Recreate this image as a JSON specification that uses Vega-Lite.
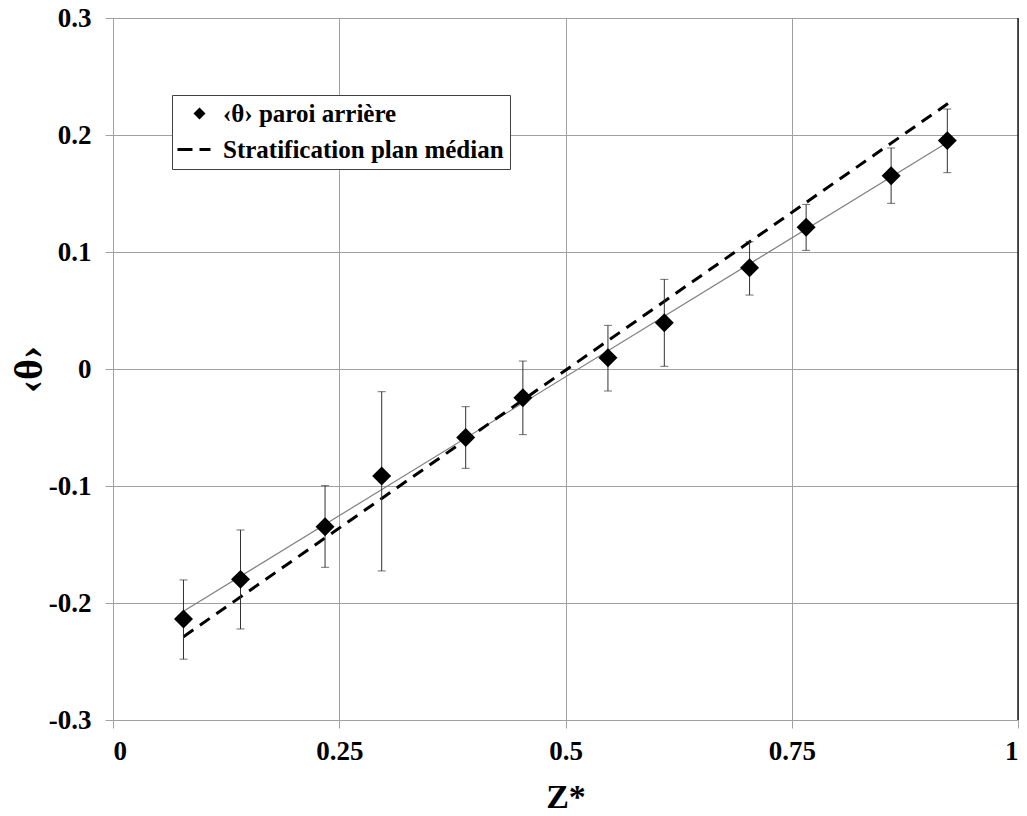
{
  "$schema": "https://vega.github.io/schema/vega-lite/v6.json",
  "autosize": {"type": "none"},
  "width": 905,
  "height": 702,
  "padding": {"left": 113, "top": 18, "right": 9, "bottom": 96},
  "background": "white",
  "config": {
    "view": {"stroke": null},
    "font": "Liberation Serif, Times New Roman, Times, serif",
    "axis": {
      "labelFont": "Liberation Serif, Times New Roman, Times, serif",
      "labelFontWeight": "bold",
      "labelFontSize": 27,
      "labelColor": "#000000",
      "titleFont": "Liberation Serif, Times New Roman, Times, serif",
      "titleFontWeight": "bold",
      "titleColor": "#000000",
      "gridColor": "#a0a0a0",
      "gridWidth": 1,
      "domainColor": "#a0a0a0",
      "tickColor": "#a0a0a0",
      "tickSize": 8
    }
  },
  "datasets": {
    "points": [
      {"z": 0.0779, "theta": -0.2137, "lo": -0.248, "hi": -0.1803, "series": "‹θ› paroi arrière"},
      {"z": 0.1409, "theta": -0.1798, "lo": -0.2222, "hi": -0.1376, "series": "‹θ› paroi arrière"},
      {"z": 0.2343, "theta": -0.1348, "lo": -0.1695, "hi": -0.0997, "series": "‹θ› paroi arrière"},
      {"z": 0.2969, "theta": -0.0915, "lo": -0.1726, "hi": -0.0194, "series": "‹θ› paroi arrière"},
      {"z": 0.3897, "theta": -0.0585, "lo": -0.0849, "hi": -0.0322, "series": "‹θ› paroi arrière"},
      {"z": 0.4529, "theta": -0.0245, "lo": -0.0561, "hi": 0.0068, "series": "‹θ› paroi arrière"},
      {"z": 0.5469, "theta": 0.0097, "lo": -0.0188, "hi": 0.0373, "series": "‹θ› paroi arrière"},
      {"z": 0.6092, "theta": 0.0396, "lo": 0.0023, "hi": 0.0766, "series": "‹θ› paroi arrière"},
      {"z": 0.7034, "theta": 0.0866, "lo": 0.0632, "hi": 0.1088, "series": "‹θ› paroi arrière"},
      {"z": 0.7659, "theta": 0.1211, "lo": 0.1014, "hi": 0.1407, "series": "‹θ› paroi arrière"},
      {"z": 0.8598, "theta": 0.1652, "lo": 0.1416, "hi": 0.1889, "series": "‹θ› paroi arrière"},
      {"z": 0.9219, "theta": 0.1952, "lo": 0.1678, "hi": 0.2222, "series": "‹θ› paroi arrière"}
    ],
    "fit": [
      {"z": 0.0779, "theta": -0.207},
      {"z": 0.9219, "theta": 0.1935}
    ],
    "strat": [
      {"z": 0.0779, "theta": -0.2288},
      {"z": 0.9228, "theta": 0.227}
    ],
    "border": [{"z": 1}]
  },
  "layer": [
    {
      "data": {"name": "fit"},
      "mark": {"type": "line", "color": "#808080", "strokeWidth": 1.2},
      "encoding": {
        "x": {
          "field": "z", "type": "quantitative", "title": "Z*",
          "scale": {"domain": [0, 1], "nice": false, "zero": false},
          "axis": {
            "values": [0, 0.25, 0.5, 0.75, 1],
            "labelExpr": "toString(datum.value)",
            "labelPadding": 10,
            "titleFontSize": 34,
            "titleBaseline": "alphabetic",
            "titleY": 87
          }
        },
        "y": {
          "field": "theta", "type": "quantitative", "title": "‹θ›",
          "scale": {"domain": [-0.3, 0.3], "nice": false, "zero": false},
          "axis": {
            "values": [-0.3, -0.2, -0.1, 0, 0.1, 0.2, 0.3],
            "labelExpr": "toString(datum.value)",
            "labelPadding": 14,
            "titleFontSize": 40,
            "titleBaseline": "alphabetic",
            "titleX": -72
          }
        }
      }
    },
    {
      "data": {"name": "strat"},
      "mark": {"type": "line", "color": "#000000", "strokeWidth": 3, "strokeDash": [12, 8]},
      "encoding": {
        "x": {"field": "z", "type": "quantitative", "title": "Z*"},
        "y": {"field": "theta", "type": "quantitative", "title": "‹θ›"}
      }
    },
    {
      "data": {"name": "border"},
      "mark": {"type": "rule", "color": "#000000", "strokeWidth": 1.3},
      "encoding": {
        "x": {"field": "z", "type": "quantitative", "title": "Z*"}
      }
    },
    {
      "data": {"name": "points"},
      "mark": {
        "type": "errorbar",
        "ticks": {"size": 8, "thickness": 1, "color": "#333333"},
        "rule": {"strokeWidth": 1, "color": "#333333"}
      },
      "encoding": {
        "x": {"field": "z", "type": "quantitative", "title": "Z*"},
        "y": {"field": "lo", "type": "quantitative", "title": "‹θ›"},
        "y2": {"field": "hi"}
      }
    },
    {
      "data": {"name": "points"},
      "mark": {"type": "point", "filled": true, "color": "#000000", "opacity": 1, "size": 360, "shape": "diamond"},
      "encoding": {
        "x": {"field": "z", "type": "quantitative", "title": "Z*"},
        "y": {"field": "theta", "type": "quantitative", "title": "‹θ›"}
      }
    },
    {
      "data": {"name": "points"},
      "mark": {"type": "point", "filled": true, "color": "#000000", "opacity": 1, "size": 0},
      "encoding": {
        "x": {"field": "z", "type": "quantitative", "title": "Z*"},
        "y": {"field": "theta", "type": "quantitative", "title": "‹θ›"},
        "shape": {
          "field": "series", "type": "nominal",
          "scale": {
            "domain": ["‹θ› paroi arrière", "Stratification plan médian"],
            "range": ["M0.5,0L1.5,-1L2.5,0L1.5,1Z", "M-2.17,-0.25H0.33V0.25H-2.17Z M1.5,-0.25H3.33V0.25H1.5Z"]
          },
          "legend": {
            "title": null,
            "orient": "none",
            "legendX": 59,
            "legendY": 77,
            "padding": 6,
            "strokeColor": "#404040",
            "fillColor": "#ffffff",
            "symbolSize": 144,
            "symbolFillColor": "#000000",
            "symbolStrokeWidth": 0,
            "symbolOpacity": 1,
            "labelFont": "Liberation Serif, Times New Roman, Times, serif",
            "labelFontWeight": "bold",
            "labelFontSize": 25,
            "labelColor": "#000000",
            "labelLimit": 500,
            "labelOffset": 20,
            "rowPadding": 10
          }
        }
      }
    }
  ]
}
